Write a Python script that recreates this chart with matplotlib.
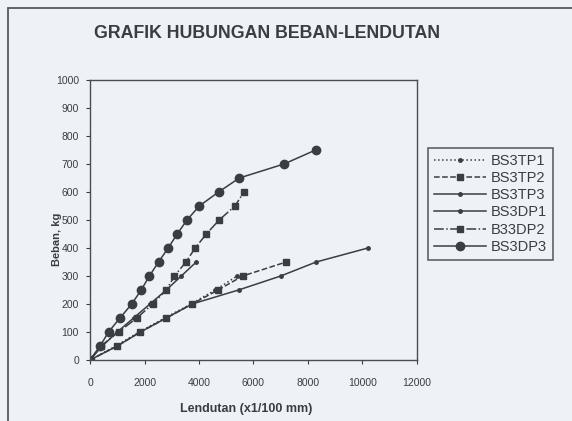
import matplotlib
matplotlib.use("Agg")
import matplotlib.pyplot as plt
from matplotlib.patches import Rectangle

plt.rcParams['font.family'] = ['Liberation Sans', 'DejaVu Sans']

# load steps in kg (every 50 kg)
load_tp1 = [0, 50, 100, 150, 200, 250, 300]
defl_tp1 = [0, 950, 1800, 2750, 3700, 4600, 5400]

load_tp2 = [0, 50, 100, 150, 200, 250, 300, 350]
defl_tp2 = [0, 1000, 1850, 2800, 3750, 4700, 5600, 7200]

load_tp3 = [0, 50, 100, 150, 200, 250, 300, 350]
defl_tp3 = [0, 450, 1000, 1600, 2200, 2800, 3350, 3900]

load_dp1 = [0, 50, 100, 150, 200, 250, 300, 350, 400]
defl_dp1 = [0, 1000, 1850, 2800, 3750, 5450, 7000, 8300, 10200]

load_dp2 = [0, 50, 100, 150, 200, 250, 300, 350, 400, 450, 500, 550, 600]
defl_dp2 = [0, 400, 1050, 1720, 2300, 2800, 3100, 3520, 3860, 4270, 4740, 5320, 5650]

load_dp3 = [0, 50, 100, 150, 200, 250, 300, 350, 400, 450, 500, 550, 600, 650, 700, 750]
defl_dp3 = [0, 370, 680, 1100, 1530, 1880, 2180, 2515, 2870, 3200, 3560, 4010, 4720, 5480, 7120, 8280]

x_ticks = [0, 2000, 4000, 6000, 8000, 10000, 12000]
y_ticks = [0, 100, 200, 300, 400, 500, 600, 700, 800, 900, 1000]

bg = '#eef1f6'
ink = '#3a3d42'
W, H = 572, 421

fig = plt.figure(figsize=(W / 100, H / 100), dpi=100, facecolor=bg)

# frame around the whole chart (runs off the scanned page on right/bottom)
fig.patches.append(Rectangle((8 / W, -0.1), 1.2, 1 - 8 / H + 0.1,
                             transform=fig.transFigure, fill=False,
                             edgecolor='#555a60', linewidth=1.3))

ax = fig.add_axes([90 / W, 61 / H, 327 / W, 280 / H], facecolor=bg)

ax.plot(defl_tp1, load_tp1, linestyle=':', color=ink, lw=1.1,
        marker='o', markersize=2.5, label='BS3TP1')
ax.plot(defl_tp2, load_tp2, linestyle='--', color=ink, lw=1.1,
        marker='s', markersize=4, label='BS3TP2')
ax.plot(defl_tp3, load_tp3, linestyle='-', color=ink, lw=1.1,
        marker='o', markersize=2.5, label='BS3TP3')
ax.plot(defl_dp1, load_dp1, linestyle='-', color=ink, lw=1.1,
        marker='o', markersize=2.5, label='BS3DP1')
ax.plot(defl_dp2, load_dp2, linestyle='-.', color=ink, lw=1.1,
        marker='s', markersize=5, label='B33DP2')
ax.plot(defl_dp3, load_dp3, linestyle='-', color=ink, lw=1.1,
        marker='o', markersize=6, label='BS3DP3')

ax.set_xlim(0, 12000)
ax.set_ylim(0, 1000)
ax.set_xticks(x_ticks)
ax.set_yticks(y_ticks)
ax.tick_params(direction='out', length=3, width=0.8, colors=ink,
               labelsize=7.5, pad=5)
ax.tick_params(axis='x', pad=10)
for s in ax.spines.values():
    s.set_color('#4a4e54')
    s.set_linewidth(1.0)

ax.set_xlabel('Lendutan (x1/100 mm)', fontsize=9, fontweight='bold',
              color=ink)
ax.xaxis.set_label_coords(0.478, -0.155)
ax.set_ylabel('Beban, kg', fontsize=8, fontweight='bold', color=ink)
ax.yaxis.set_label_coords(-0.085, 0.43)

fig.text(267 / W, 1 - 33 / H, 'GRAFIK HUBUNGAN BEBAN-LENDUTAN',
         ha='center', va='center', fontsize=12.8, fontweight='bold', color=ink)

leg = fig.legend(loc='upper left', bbox_to_anchor=(428 / W, 1 - 148 / H),
                 fontsize=10.5, frameon=True, fancybox=False,
                 handlelength=3.6, handletextpad=0.3, borderpad=0.4,
                 labelspacing=0.22, borderaxespad=0)
leg.get_frame().set_edgecolor('#3a3d42')
leg.get_frame().set_linewidth(1.2)
leg.get_frame().set_facecolor(bg)
for t in leg.get_texts():
    t.set_color(ink)

fig.savefig('out.png', dpi=100, facecolor=bg)
